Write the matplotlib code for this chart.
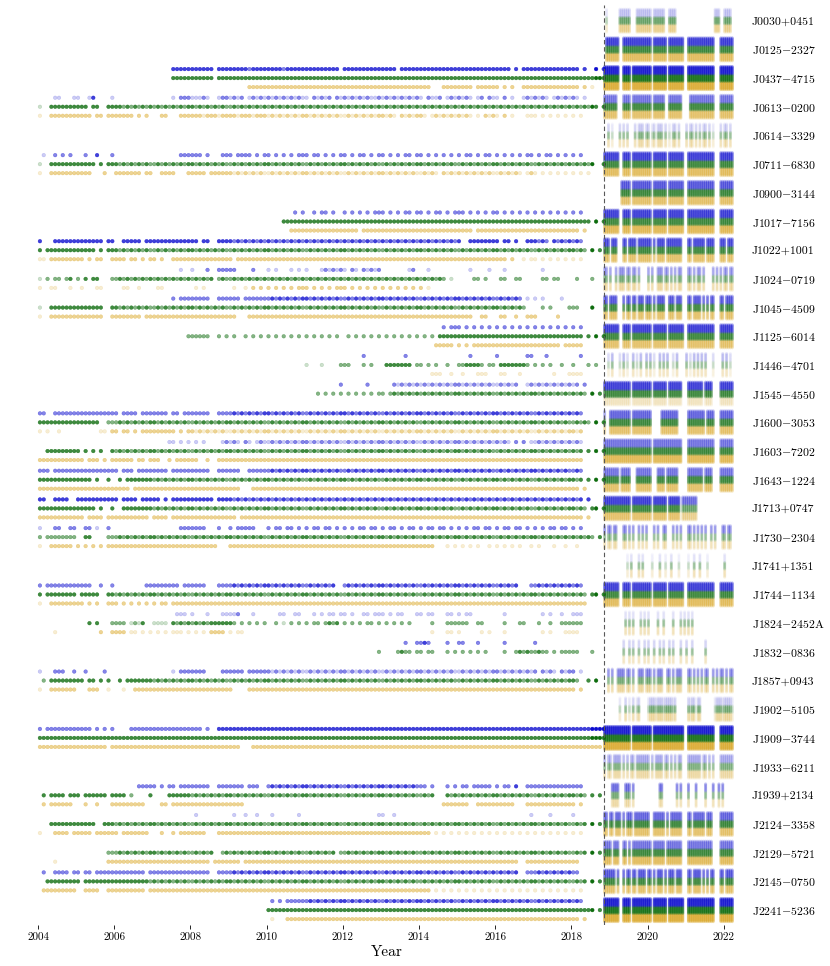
import numpy as np
import matplotlib
matplotlib.use("Agg")
import matplotlib.pyplot as plt
from matplotlib.colors import to_rgba

plt.rcParams["font.family"] = ["cmr10", "DejaVu Serif"]
plt.rcParams["mathtext.fontset"] = "cm"
plt.rcParams["axes.formatter.use_mathtext"] = True

# ---------------------------------------------------------------- data
PULSARS = ["J0030+0451", "J0125-2327", "J0437-4715", "J0613-0200", "J0614-3329",
           "J0711-6830", "J0900-3144", "J1017-7156", "J1022+1001", "J1024-0719",
           "J1045-4509", "J1125-6014", "J1446-4701", "J1545-4550", "J1600-3053",
           "J1603-7202", "J1643-1224", "J1713+0747", "J1730-2304", "J1741+1351",
           "J1744-1134", "J1824-2452A", "J1832-0836", "J1857+0943", "J1902-5105",
           "J1909-3744", "J1933-6211", "J1939+2134", "J2124-3358", "J2129-5721",
           "J2145-0750", "J2241-5236"]
YEAR_TICKS = [2004, 2006, 2008, 2010, 2012, 2014, 2016, 2018, 2020, 2022]
UWL_START_YEAR = 2018.85          # start of the wide-band receiver era (dashed line)
OLD_START_YEAR = 2004.0
OLD_BIN_YEARS = 0.1               # one character = 0.1 yr (groups of 10 = one year)
UWL_BIN_YEARS = 0.05              # one character = 0.05 yr
UWL_SUBBAND_MHZ = [768, 896, 1024, 1152, 1280, 1408, 1536, 1664, 1792, 1920, 2048,
                   2176, 2304, 2432, 2560, 2688, 2816, 2944, 3072, 3200, 3328, 3456,
                   3584, 3712, 3840, 3968]
BAND_SPLIT_MHZ = [1856, 2880]     # below: orange, between: green, above: blue

# observation epochs before the UWL era: '.' none, 1..4 point weight
OLD_BLUE = [
    "",
    "",
    ".......... .......... .......... .....33333 333333.333 3333323333 3333233333 333333333. 3333333333 3333.33333 3333333333 3333333333 3333.3.333 3333333333 33.3..4.3",
    "....11...1 1..13....1 .......... .....1.222 11121..122 1212.12121 2121212121 1.21212.21 2121212112 1212121212 1.2112.121 2121.12.21 1.2.1..121 2121.12121 21.1.....",
    "",
    ".1..2.2.2. ..2..3...2 .......... .......222 222.2...22 2.2222.2.2 2.2.2.2.22 2.22.2.2.2 2.2.22.2.2 2.2.2.22.2 2.2.2.2.2. 2.22.2.22. 2.2.2.2.22 .2.22.2.2. 2.2......",
    "",
    ".......... .......... .......... .......... .......... .......... .......2.2 ..2.22.2.. 2.2.2.2.22 2.2.2.22.2 2.2.22.2.2 22.2.2.2.2 2.2.2.2.2. 2.2.2.2.2. 2.2......",
    "3...333333 3333333.33 ..33333.33 3333333333 33.33..333 3232323232 3232323232 3232323232 3232323232 3232323232 3232323232 3..3333333 3.33.3..33 3232.32323 232......",
    ".......... .......... .......... .......1.. 1...2..222 22....2... 1.1...1.1. 1...121212 1.21.21212 .......12. ..1....... ...1....1. ..1....... ..1....... .........",
    ".......... .......... .......... .....2.222 22222..222 222.222222 2323232323 3232323232 2323232323 3232323232 2323232323 3232323232 2323232.1. 1.1....1.. .........",
    ".......... .......... .......... .......... .......... .......... .......... .......... .......... .......... ......2.22 2.2.2.2.2. 2.2.2.2.2. 2.2.2.2.2. 2.2......",
    ".......... .......... .......... .......... .......... .......... .......... .......... .....2.... ......2... .......... ...2...... 2.......22 ...2...... ..2......",
    ".......... .......... .......... .......... .......... .......... .......... .........2 ......2... ...2121212 1212121212 2121212121 121212..12 1212121212 12.2.....",
    "22..222222 2222222222 2.2222.222 2222.22.22 22222..222 2323232323 3232323232 2323232323 3232323232 2323232323 3232323232 2323232323 3232323232 2323232323 232......",
    ".......... .......... .......... ....11.1.1 .1.1....12 121.21.121 1212121212 2121212121 1212121212 2121212121 1212121212 2121212121 2121.2.2.1 1212121212 121......",
    "222.222222 2222222222 2.222.2222 2222.22222 22222..222 222..22222 2323232323 3232323232 2323232323 3232323232 2323232323 3232323232 2323232323 3232323232 232......",
    "33..3333.. 3333333333 3.3333.333 33.3.33333 333333.333 3232323232 3232323232 3232323232 3232323232 3232323232 3232323232 3232323232 3232323232 3232323232 323.3....",
    "1...22..22 ..22.1..2. .......... .......222 2222...2.. 2.22222... 2.22.22.2. 2.22.22.2. 2.2.22.22. 2.22.2.22. 2.22.22.2. 2.2.22.22. 2.22.22.2. 2.2.22.22. 2.2......",
    "",
    "2.22222222 2222..2..2 ........22 2222222.22 2222...222 2323232323 3232323232 23232323.. 2323232323 3232323232 2323232323 3232323232 232323...2 2323232323 232......",
    ".......... .......... .......... ......111. 1...1...11 112...1... ...11..11. ..1.1.11.1 1.1..11.11 1.1.11...1 1.11...11. 1.11...... ..1....... ..1.1..1.. 111......",
    ".......... .......... .......... .......... .......... .......... .......... .......... .......... ......2..2 232....2.. 22...2.... ..2....... 2......... .........",
    "1...222..2 ..2....2.. .......... .....1.222 2222....22 2222.22222 2121212121 1212121212 2121212121 1212121212 2121212121 1212121212 2121212121 2.2121.212 2.1......",
    "",
    "2.22222222 2222.2.2.2 ....222222 2222222222 222.2..333 3333333333 3333333333 3333333333 3333333333 3333333333 3333333333 3333333333 3333333333 3333333333 333334444",
    "",
    ".......... .......... ......2222 2.2.22.222 22222..222 2222.222.. 2323232323 3232323232 2323232323 3232323232 22.2...2.2 .22.22222. 2.22.3..22 2222222222 222......",
    ".......... .......... .......... .......... .1........ .1..1..1.. .1......1. .......... .........1 1..1...... .......... .......... .........1 ....1..... 1........",
    "",
    ".2..2222.2 2.22.22222 22222222.2 2222222222 22222..222 2323232323 3232323232 2323232323 3232323232 2323232323 3232323232 2323232323 232323..22 2323232323 22.......",
    ".......... .......... .......... .......... .......... .......... .2.2.22222 2323232323 3232323232 2323232323 3232323232 2323232323 3232323232 2323232323 232......",
]

OLD_GREEN = [
    "",
    "",
    ".......... .......... .......... .....33333 333333.333 3333333333 3333333333 3333333333 3333333333 3333333333 3333333333 3333333333 3333333333 3333333333 333333443",
    "1..3333333 333.33..33 3323232323 2323232323 3232323232 2323232323 2323232323 2323232323 2323232323 2323232323 2323232323 2323232323 2323232323 2323232323 2323243.3",
    "",
    "1..3333333 33333.3.33 3232323232 2323232323 3232323232 2323232323 3232323232 2323232323 3232323232 2323232323 3232323232 2323232323 3232323232 2323232323 232324..3",
    "",
    ".......... .......... .......... .......... .......... .......... ....333333 3333333333 3333333333 3333333333 3333333333 3333333333 3333333333 3333333333 33333.4.3",
    "3.33333333 33333.3.33 3232323232 2323232323 3232323232 2323232323 3232323232 2323232323 3232323232 2323232323 3232323232 2323232323 3232323232 2323232323 3232.4.3.",
    "1.2.22.23. 2.3.33...2 2323232323 2323232323 232323.232 2323232323 2323232323 2323232323 2323232323 2323232323 2323232.1. ....22.2.. .22..22... ..22.22... .2...2...",
    "1..3333333 3333333..3 3232323232 2323232323 3232323232 2323232323 3232323232 2323232323 3232323232 2323232323 3232323232 2323232323 32323232.. ..2.2....2 22...4...",
    ".......... .......... .......... .........2 22222..2.2 .2..2.2.2. 2.2.2.2.2. 2.2.2.2.2. .2.2.2.2.2 .2.2.2.2.2 .2.2.33333 3333333333 3333333333 3333333333 333.3.4.3",
    ".......... .......... .......... .......... .......... .......... .......... 1...1....2 22...2.2.. .3333333.2 2.2.2..2.. 2233332.22 .33333332. 2.2.2..2.. 2...2.2..",
    ".......... .......... .......... .......... .......... .......... .......... ...2.2.2.2 .2.2.2.2.2 2.23232323 2323232323 3232323232 2323232323 3232323232 3232.4.3.",
    "3333333333 333333..22 2323232323 3232323232 2323232323 3232323232 2323232323 3232323232 2323232323 3232323232 2323232323 3232323232 2323232323 3232323232 23232.4.3",
    "..33333333 3.3.3.3..3 2323232323 3232323232 2323232323 3232323232 2323232323 3232323232 2323232323 3232323232 2323232323 3232323232 2323232323 3232323232 323.3.4.3",
    "3333333333 3333.3..3. .3.3333333 2323232323 3232323232 2323232323 3232323232 2323232323 3232323232 2323232323 3232323232 2323232323 3232323232 2323232323 323.3.4.3",
    "3333333333 33333.3..3 ..33333333 2323232323 3232323232 2323232323 3232323232 2323232323 3232323232 2323232323 3232323232 2323232323 3232323232 2323232323 3232.34.3",
    "2.22222222 ..33....22 2323232323 3232323232 2323232323 3232323232 2323232323 3232323232 2323232323 3232323232 2323232323 3232323232 2323232323 3232323232 323232.3.",
    "",
    "3.33333333 .33333..33 2323232323 3232323232 2323232323 3232323232 2323232323 3232323232 2323232323 3232323232 2323232323 3232323232 2323232323 3232323232 3232.34.3",
    ".......... ...3.3...2 222.1213.. 1111.32323 2323233333 32.2.2.2.2 ..2.1.2.2. 2.22.2323. 2.2.2.22.2 .2.2.2.2.. ...2...222 222..22... ..2...22.. .2..2..222 222......",
    ".......... .......... .......... .......... .......... .......... .......... .......... .........2 ....2322.2 2.22...2.2 .2.2.2.2.. ..2..23232 2322.2.222 22...2...",
    ".2.3333333 33.33.3.3. .3.3333333 2323232323 3232323232 2323232323 3232323232 2323232323 3232323232 2323232323 3232323232 2323232323 3232323232 2323232323 32..3.4..",
    "",
    "3333333333 3333333333 3333333333 3333333333 3333333333 3333333333 3333333333 3333333333 3333333333 3333333333 3333333333 3333333333 3333333333 3333333333 333334443",
    "",
    ".3.3333.33 3.333333.3 333.2....3 ....333333 2323232323 3232323232 2323232323 3232323232 2323232323 3232323232 2323...323 2323232323 3232323232 2323232323 3232.3.3.",
    "...3333333 33333..333 2323232323 3232323232 2323232323 3232323232 2323232323 3232323232 2323232323 3232323232 2323232323 3232323232 2323232323 3232323232 2323.4.3.",
    ".......... ........22 2323232323 3232323232 232323..23 2323232323 3232323232 23232323.2 2323232323 3232323232 2323232323 3232323232 2323232323 3232323232 2323.4.3.",
    "..33333333 3.33333333 3333333332 3232323232 2323232323 3232323232 2323232323 3232323232 2323232323 3232323232 2323232323 3232323232 2323232323 3232323232 2323.4.3.",
    ".......... .......... .......... .......... .......... .......... 3333333333 3333333333 3333333333 3333333333 3333333333 3333333333 3333333333 3333333333 333334.3.",
]

OLD_ORANGE = [
    "",
    "",
    ".......... .......... .......... .......... .......... .....22222 2222222222 2222222222 2222222222 2222222222 222...2222 2222.22222 2.2.2..222 2222222222 22.2.1...",
    "1..2222222 2222.22.22 22222.2.2. ..22...222 2221222122 2212221222 1212121212 2121212121 1212121212 2121.21212 21.1212121 2121.1.212 1.2.1...11 1.1.1.1.1. 1.1......",
    "",
    "1..2222222 2222...2.. 2222222.22 ..2222...2 2222.22222 2121212121 1212121212 2121212121 1212121212 2121212121 12121.2121 2121212121 1212121.12 1.1.1.1.1. 1.1.1....",
    "",
    ".......... .......... .......... .......... .......... .......... ......2222 2222222222 2222.22222 2222222222 2222222222 2222.22222 2222222222 2222222222 22.2.....",
    "11.2222222 22.2.22..2 222.22.2.2 2.2..22222 2222222222 2.22222222 2222222222 2222222222 2222222222 2222222222 2222222222 2222222222 222.2..1.1 1.1.1.1.1. 1.1......",
    "1..11...1. .1...11... ..11..1... .11....... .1.1...... .1..1.2.2. 2.2.2.2.22 2.2.2.2.22 2.2.2.2.2. 2.2.2.2.2. 2.1....... .......... .......... .......... .........",
    "1..2222222 2222222..2 2222222.22 2222222222 2222222222 22...22222 2222222222 2222222222 2222222222 2222222222 2222222222 2222..22.. .22..2..22 2.....2... .........",
    ".......... .......... .......... .......... .......... .......... .......... .......... .......... .......... ....22222. 2.2.222222 2222222222 2222222.22 222......",
    ".......... .......... .......... .......... .......... .......... .......... .......... .......... .......... ...111..1. .1...111.. .11...1... .....1...1 111......",
    "",
    "1.1..1.... ......11.2 2.22.2.222 222222.2.2 2121212121 1212121212 2121212121 1212121212 2121212121 1212121212 2121212121 1212121212 2121212121 1212121212 212......",
    "2222222222 22.222.2.2 22222.22.2 22..2.2222 22..2..222 2222222222 2222222222 2222222222 2222222222 2222222222 2222222222 2222222222 2222222222 2222222222 222......",
    "2222222222 2222222222 2222.22222 2222222222 2222222222 222...2222 2222222222 2222222222 2222222222 2222222222 2222222222 2222222222 2222222222 2222222222 22.2.....",
    "2222222222 22.2222.22 222222222. 2222.22222 2222222222 22.2222222 2222222222 2222222222 2222222222 2222222222 2222222222 2222222222 2222222222 2222222222 222.2....",
    "1..222222. 2.2.2.2.22 2222222222 2222222222 2222222... 2222222222 2222222222 2222222222 2222222222 2222222222 2222...1.1 .1.1.1..1. 1.1.1.1..1 .1...1..1. .1.......",
    "",
    "1..2222222 22.2.2..22 2.2.2.2.2. 2.22.22222 2222222222 2222222222 2222222222 2222222222 2222222222 2222222222 2222222222 2222222222 2222222222 2222222222 2222.....",
    "....1..... ......2..2 222.11.1.1 .1.1.111.1 .1.1.2222. 1.11...... .......... .......... .......... .......... ...1...11. 1.....1.1. ..1....... ..1.1...11 11.......",
    "",
    "1..2222222 ...222..1. ..1..22222 2222222222 2222222222 2....22222 2222222222 2222222222 2222222222 2222222222 2222222222 2222222222 2222222222 2222222222 2.2......",
    "",
    "2222222222 22222222.2 2222222222 2222222222 2222222222 222...2222 2222222222 2222222222 2222222222 2222222222 2222222222 2222222222 2222222222 2222222222 22222222.",
    "",
    ".2.222222. ..2..2...2 22222222.. ..22.22222 2222222222 2222...... .......... .......... .......... .......... ......2222 222..22222 22222...22 2222222222 2.2......",
    "1...2222.2 2222.22222 2.2222222. ..2..2.222 2222...222 2222222222 2222222222 2222222222 2222222222 2222222222 222.1.1.1. 1.1.1.1.1. 1.1.1.1.1. 1.1.1.1.1. 1.1......",
    "....1..... ........22 2222222222 2222222222 22222.2222 222.222222 2222222222 2222222222 2222222222 2222222222 2222222222 2222222222 222222..22 2222222222 22.......",
    ".222222222 ..2222..22 22222222.2 2222222222 2222222222 2222222222 2222222222 2222222222 2222222222 2222222222 222.1.1.1. 1.1.1.1.1. 1.1.1.1.1. 1.1.1.1.1. 1.1......",
    ".......... .......... .......... .......... .......... .......... .1...22222 2222222222 2222222222 2222222222 2222222222 2222222222 2222222222 2222222222 22.2.....",
]

# UWL-era epochs (0.05 yr per character), weight 1..4
UWL_CADENCE = [
    ".1......22 2222...222 22222.2222 22..2222.. .......... ........22 2..2222.",
    ".3333333.. 3333333333 33333.3333 333.333333 33..333333 33333333.. .3333333",
    "44444444.. 4444.44444 44444.4444 444.444444 44..444444 44444444.. .4444444",
    "3333333... 3333.33333 33333.3333 33..333333 3....33333 33333333.. .3333333",
    "..2.1...2. 2.2...2.22 2.22.12.22 2.2.1.22.2 ...2.22.2. 2.22.2.1.. .2.22.2.",
    "33333333.. 3333.33333 33333.3333 333.333333 33..333333 33333333.. .3333333",
    ".........3 3333.33333 33333.3333 333.333333 33..333333 33333333.. .3333333",
    "33333333.. 3333.33333 33333.3333 333.333333 33..333333 33333333.. .3333333",
    "333.333... 33.3333.33 33333.3.33 33.3333333 3...33.333 333.3333.. .333.333",
    "22.2..2.22 2.22.22.2. ...2.2..22 2.22.2.2.2 2...22.2.2 2.2....2.2 .2.22.22",
    "33.3333... 3.33.33.33 3.333.3.33 33..333.33 3...33.333 3.3.3.33.. .33.3333",
    "33333333.. 3333.33333 33333.3333 333.333333 33..333333 33333333.. .3333333",
    "..1.2...1. 2.1..2.1.2 ..2.2.1..2 .2.2..1.2. ...2.1.2.2 .2.2...1.. ..2.2.1.",
    "3333333333 3333.33333 33333.3333 333.333333 3...333333 33.3333... .3333333",
    "2..3333333 3333.33333 33333..... 333333333. ....333333 333.3333.. .3333333",
    "3333333333 3333333333 33333.3333 3333333333 3...333333 33333333.. .3333333",
    "33333333.3 3333...333 33333...33 33.333333. ....333333 33.3333... .3333333",
    "3333333333 3333.33333 33333.3333 333.333333 .22222222. .......... ........",
    "2.22.22... 22.2.2..2. 2.2...2.2. .22...2.2. 2...22.2.2 .2.2..2.2. ..22.22.",
    ".......... ..1.2...2. 2....1...2 ..1..2...1 ....1..2.. 2...1..... ...2....",
    "33333333.. 3333.33333 33333.3333 333.333333 33..333333 33333333.. .3333333",
    ".......... .2.2.2...2 .2.2....2. .2....2... 2.2.2.2... .......... ........",
    ".......... 2..2.2..2. .2.2..2..2 .2..2.2... 2..2..2... ...2...... ........",
    "..2.2..222 2.22.2..22 2.222.2.22 2..22.2.22 2...22.2.2 .2.22..2.2 .22.2.22",
    "........1. .2.1.2.12. ...1222122 21222212.. ....2122.2 2.......12 22122221",
    "4444444444 4444.44444 44444.4444 4444444444 44..444444 44444444.. .4444444",
    "2.22.2222. 2.2.22.222 2222.2.222 2.22.2.2.2 2...222222 2.22.2.2.. .2222222",
    "....2222.. .222.2.... .........2 2.......2. 2...2...2. ...2...2.. 2.2.....",
    "33.33.333. 3.333.3333 3333..3333 33.3.33333 3...33.333 333.333... .3333333",
    "3333.333.. 33.3.33333 33333.3333 33.3333333 3...333333 3333333... .3333333",
    "333333.3.. 3.33.33.33 33.33.3.33 3.3.333.33 3...33.333 3.3.3.33.. .33.3333",
    "44444444.. 4444.44444 44444.4444 444.444444 44..444444 44444444.. .4444444",
]
UWL_BLUE_W = [0.35, 1, 1, 0.6, 0.3, 1, 0.8, 1, 0.9, 0.7, 0.8, 1, 0.5, 1, 0.7, 0.6,
              0.6, 1, 0.8, 0.2, 1, 0.2, 0.3, 0.8, 0.3, 1, 0.5, 1, 0.7, 0.6, 0.8, 1]
UWL_GREEN_W = [1, 1, 1, 1, 0.8, 1, 1, 1, 1, 0.9, 1, 1, 0.8, 1, 1, 1,
               1, 1, 0.8, 0.8, 1, 0.8, 0.8, 0.9, 0.9, 1, 0.8, 0.9, 1, 1, 1, 1]
UWL_ORANGE_W = [0.8, 0.9, 1, 0.8, 0.6, 0.9, 0.8, 1, 0.8, 0.7, 0.8, 0.8, 0.5, 0.25, 0.8, 1,
                0.8, 0.8, 0.6, 0.6, 0.9, 0.6, 0.5, 0.7, 0.7, 1, 0.6, 0.6, 0.8, 0.9, 0.8, 1]

# ---------------------------------------------------------------- style
C_BLUE, C_GREEN, C_ORANGE = "#0000cd", "#006400", "#daa520"
OLD_ALPHA = {"1": 0.2, "2": 0.48, "3": 0.75, "4": 0.95}
UWL_ALPHA = {"1": 0.09, "2": 0.17, "3": 0.26, "4": 0.36}
N_OLD = 149
N_UWL = 68


def parse(s, n):
    s = s.replace(" ", "")
    return (s + "." * n)[:n]


fig = plt.figure(figsize=(8.3, 9.66), dpi=100)
ax = fig.add_axes([28.5 / 830, 41 / 966, (744.65 - 28.5) / 830, 920 / 966])
ax.set_xlim(2003.75, 2022.55)
ax.set_ylim(31.52, -0.547)

# --- pre-UWL observations
xs, ys, cols = [], [], []
for rows, col, off in ((OLD_BLUE, C_BLUE, -0.314), (OLD_GREEN, C_GREEN, 0.0),
                       (OLD_ORANGE, C_ORANGE, 0.314)):
    for i, row in enumerate(rows):
        s = parse(row, N_OLD)
        for k, ch in enumerate(s):
            if ch in OLD_ALPHA:
                xs.append(OLD_START_YEAR + OLD_BIN_YEARS * (k + 0.5))
                ys.append(i + off)
                cols.append(to_rgba(col, OLD_ALPHA[ch]))
ax.scatter(xs, ys, s=7, c=cols, marker="o", linewidths=0.3, edgecolors=cols, zorder=2)

# --- UWL observations (sub-bands stacked by frequency)
fmin, fmax = min(UWL_SUBBAND_MHZ), max(UWL_SUBBAND_MHZ)
xs, ys, cols = [], [], []
for i, row in enumerate(UWL_CADENCE):
    s = parse(row, N_UWL)
    for k, ch in enumerate(s):
        if ch not in UWL_ALPHA:
            continue
        x = UWL_START_YEAR + UWL_BIN_YEARS * (k + 0.5)
        for f in UWL_SUBBAND_MHZ:
            if f < BAND_SPLIT_MHZ[0]:
                col, w = C_ORANGE, UWL_ORANGE_W[i]
            elif f < BAND_SPLIT_MHZ[1]:
                col, w = C_GREEN, UWL_GREEN_W[i]
            else:
                col, w = C_BLUE, UWL_BLUE_W[i]
            frac = (f - fmin) / (fmax - fmin)
            xs.append(x)
            ys.append(i + 0.40 - 0.80 * frac)
            cols.append(to_rgba(col, min(1.0, UWL_ALPHA[ch] * w)))
ax.scatter(xs, ys, s=5, c=cols, marker="o", linewidths=0, zorder=2)

ax.axvline(UWL_START_YEAR, color="0.35", lw=0.8, ls=(0, (4, 2.5)), zorder=3)

# --- axes cosmetics
for sp in ax.spines.values():
    sp.set_visible(False)
ax.set_xticks(YEAR_TICKS)
ax.set_xticklabels([str(y) for y in YEAR_TICKS])
ax.tick_params(axis="x", length=3, width=0.6, pad=2.5, labelsize=8, direction="out")
ax.set_xlabel("Year", fontsize=11, labelpad=2)

labels = [p.replace("-", "$-$") for p in PULSARS]
ax.set_yticks(range(len(PULSARS)))
ax.set_yticklabels(labels, fontsize=8.5)
ax.yaxis.tick_right()
ax.tick_params(axis="y", length=0, pad=5.3)

fig.savefig("out.png", dpi=100)
